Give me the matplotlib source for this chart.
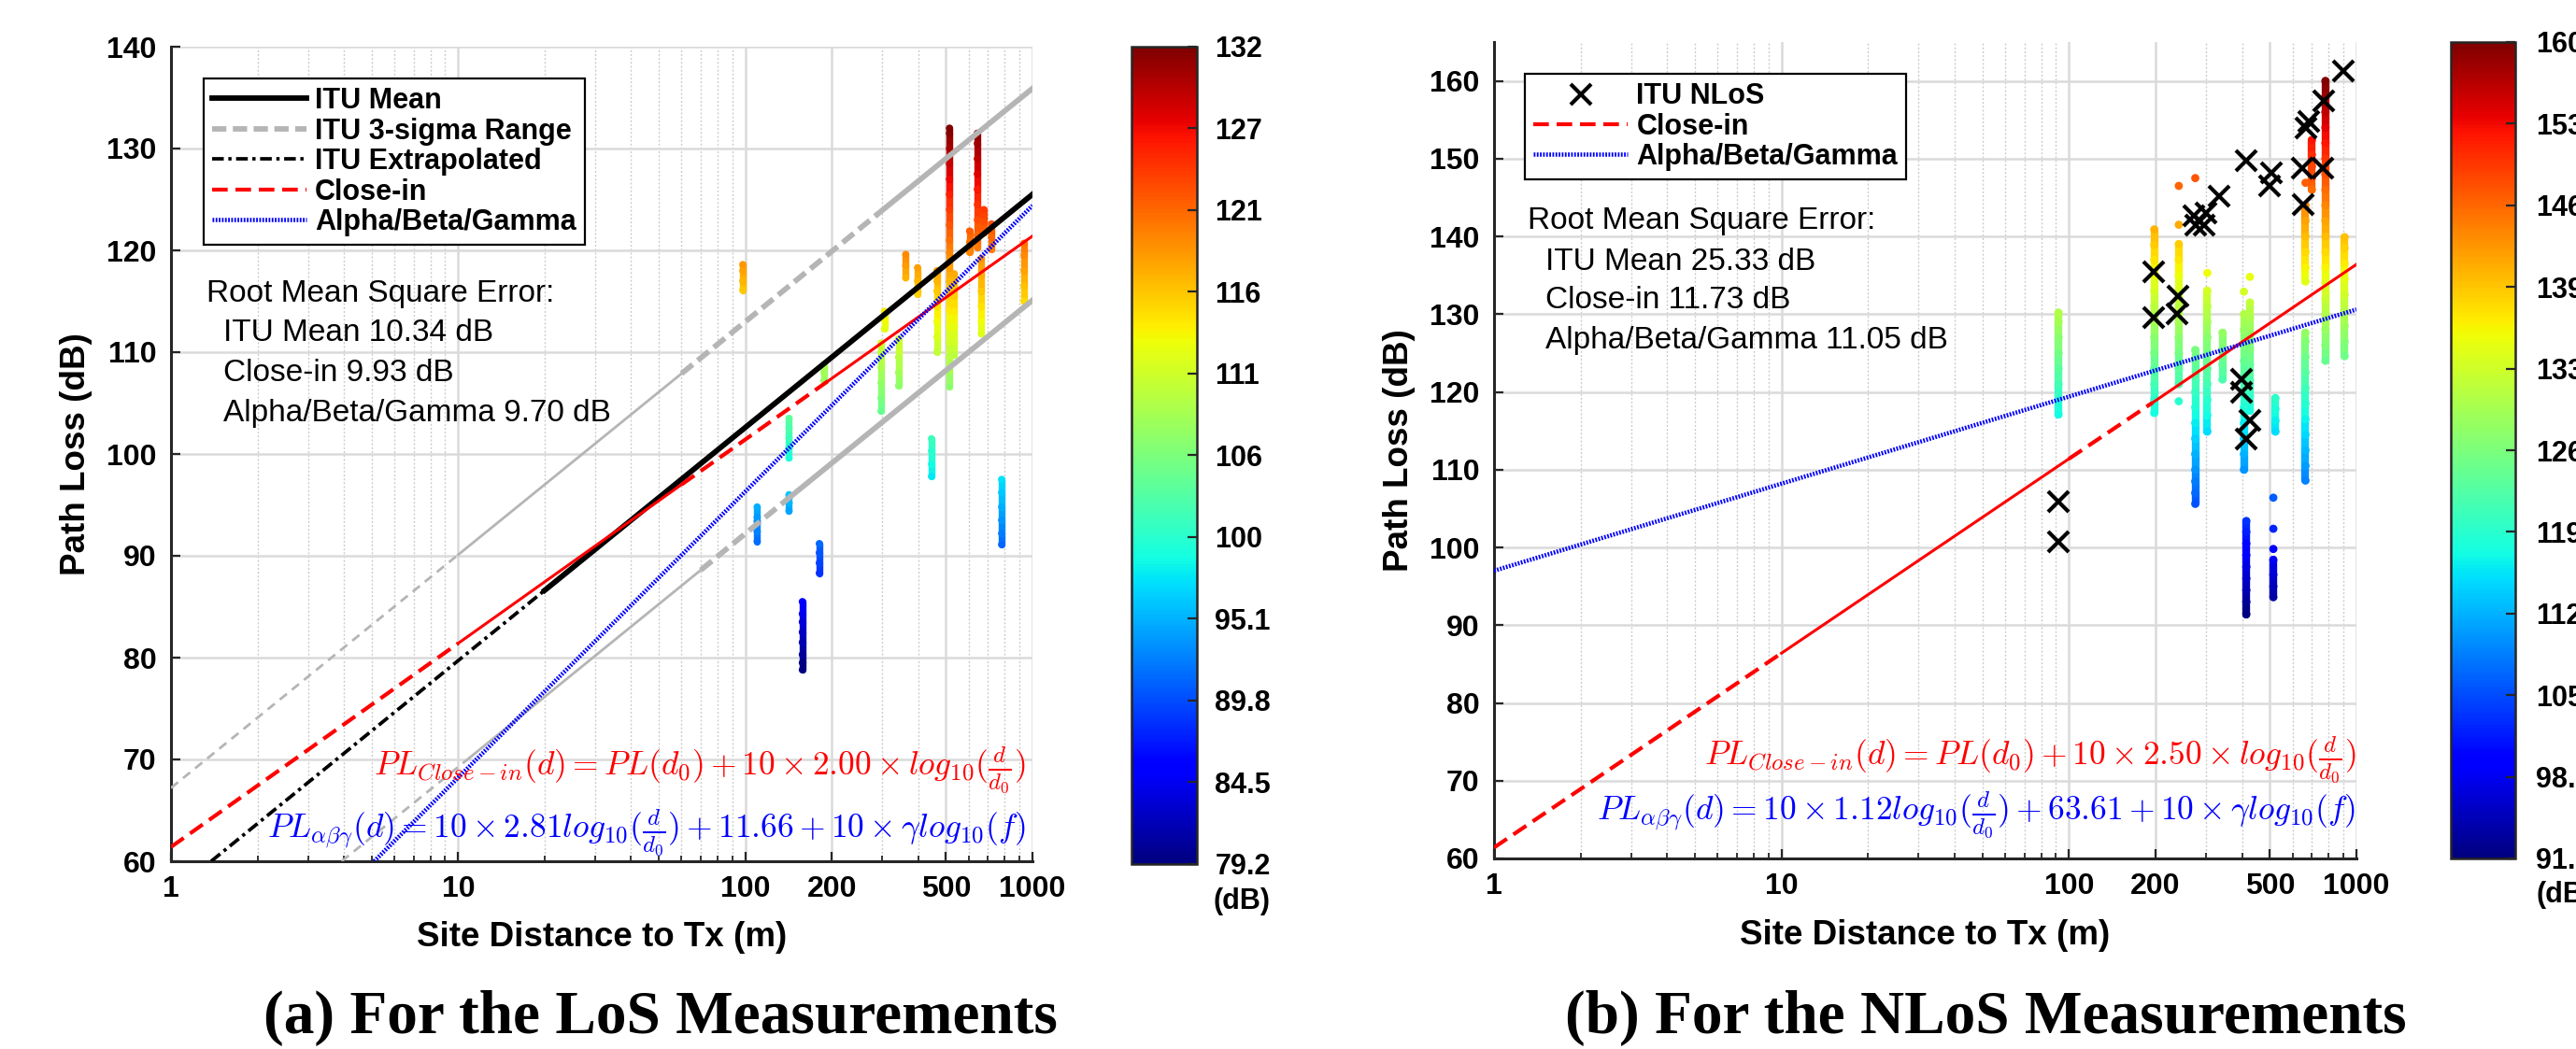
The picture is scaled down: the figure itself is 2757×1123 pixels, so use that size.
import numpy as np
import matplotlib
matplotlib.use("Agg")
import matplotlib.pyplot as plt
from matplotlib.collections import LineCollection
from matplotlib.colors import Normalize
from matplotlib.lines import Line2D
from matplotlib.ticker import LogLocator, NullFormatter
import matplotlib.cm as cm

plt.rcParams['font.family'] = ['Liberation Sans', 'DejaVu Sans']
plt.rcParams['mathtext.fontset'] = 'cm'
plt.rcParams['lines.scale_dashes'] = False

W, H = 2757, 1123

# ---------------- LoS data (panel a) ----------------
los_dist = [98, 110, 142, 142, 158, 181, 188, 297, 305, 342, 362, 398, 445,
            465, 514, 534, 604, 643, 664, 676, 720, 781, 935]
los_pl = [
    [116.1, 117.0, 118.0, 118.6],
    [91.4, 92.4, 93.4, 93.8, 94.8],
    [99.6, 100.6, 101.6, 102.6, 103.5],
    [94.4, 95.2, 96.0],
    [78.8, 79.5, 80.3, 81.5, 82.5, 83.5, 84.3, 85.5],
    [88.3, 89.3, 90.3, 91.2],
    [107.2, 108.0, 108.8],
    [104.2, 105.5, 107.0, 108.5, 110.0, 110.9],
    [112.3, 113.2, 114.0],
    [106.7, 108.0, 109.5, 111.3],
    [117.3, 118.5, 119.6],
    [115.7, 117.0, 118.3],
    [97.8, 99.0, 100.3, 101.5],
    [110.0, 111.5, 113.0, 114.5, 116.0, 117.0, 118.0],
    [106.6, 108.2, 109.5, 111.0, 112.5, 114.1, 115.5, 117.0, 118.3, 119.8,
     121.0, 122.5, 124.0, 125.5, 127.0, 128.5, 130.0, 131.5, 132.0],
    [109.7, 111.0, 112.5, 114.0, 115.5, 117.0, 117.7],
    [119.8, 120.8, 121.9],
    [120.3, 121.5, 123.0, 124.5, 126.0, 127.5, 129.0, 130.5, 131.5],
    [111.8, 113.0, 114.5, 116.0, 117.5, 119.2],
    [121.7, 122.8, 124.0],
    [120.1, 121.3, 122.6],
    [91.1, 92.2, 93.5, 94.8, 96.2, 97.5],
    [115.0, 116.5, 118.0, 119.5, 120.7],
]

# model lines (break points)
itu_ext_d, itu_ext_pl = [1.38, 20], [60.0, 86.6]
itu_mean_d, itu_mean_pl = [20, 1000], [86.6, 125.5]
up3_d, up3_pl = [1, 10, 60, 290, 1000], [67.2, 90.1, 107.9, 123.6, 135.9]
lo3_d, lo3_pl = [3.93, 11, 70, 145, 1000], [60.0, 70.2, 88.6, 95.9, 115.1]
ci_los_d, ci_los_pl = [1, 10, 60, 195, 1000], [61.4, 81.4, 97.0, 107.2, 121.4]
abg_los_d, abg_los_pl = [5.1, 1000], [60.0, 124.4]

# ---------------- NLoS data (panel b) ----------------
nlos_dist = [92, 198, 241, 241, 275, 275, 303, 342, 406, 426, 414, 514, 514,
             514, 514, 523, 665, 665, 700, 780, 910]
nlos_pl = [
    [117.1, 119.0, 121.0, 123.0, 125.0, 127.0, 129.0, 130.2],
    [117.3, 119.0, 121.0, 123.0, 125.0, 127.0, 129.0, 131.0, 133.0, 135.0,
     137.0, 138.9, 140.9],
    [118.8, 121.0, 123.0, 125.0, 127.0, 129.0, 131.0, 133.0, 135.0, 137.0,
     139.0, 141.5],
    [146.5],
    [147.5],
    [105.6, 107.0, 108.5, 110.0, 112.0, 114.0, 116.0, 118.0, 120.0, 122.0,
     124.0, 125.4],
    [114.9, 117.0, 119.0, 121.0, 123.0, 125.0, 127.0, 129.0, 131.0, 133.0,
     135.3],
    [121.6, 123.5, 125.5, 127.6],
    [110.0, 112.0, 114.0, 116.0, 118.0, 120.0, 122.0, 124.0, 126.0, 128.0,
     130.0, 132.9],
    [117.6, 119.5, 121.5, 123.5, 125.5, 127.5, 129.5, 131.5, 134.8],
    [91.4, 93.0, 94.5, 96.0, 97.5, 99.0, 100.5, 102.0, 103.4],
    [93.6, 95.0, 96.5, 98.4],
    [99.8],
    [102.4],
    [106.4],
    [114.9, 116.3, 117.8, 119.2],
    [134.2, 136.0, 138.0, 140.0, 142.0, 144.0, 146.9],
    [108.6, 110.5, 112.5, 114.5, 116.5, 118.5, 120.5, 122.5, 124.5, 126.5,
     127.6],
    [146.0, 147.5, 149.0, 150.5, 152.4],
    [124.0, 126.0, 128.0, 130.0, 132.0, 134.0, 136.0, 138.0, 140.0, 142.0,
     144.0, 146.0, 148.0, 150.0, 152.0, 154.0, 156.0, 158.0, 160.0],
    [124.6, 126.5, 128.5, 130.5, 132.5, 134.5, 136.5, 138.5, 139.9],
]

itu_nlos_d = [92, 92, 197, 197, 239, 237, 271, 276, 295, 300, 334, 414, 497,
              506, 399, 398, 427, 414, 647, 652, 669, 685, 766, 769, 898]
itu_nlos_pl = [105.9, 100.7, 135.5, 129.5, 132.3, 130.0, 142.6, 141.5, 141.5,
               143.0, 145.2, 149.7, 146.5, 148.2, 121.6, 119.9, 116.4, 113.9,
               148.8, 144.1, 154.0, 154.8, 148.8, 157.4, 161.3]

ci_nlos_d, ci_nlos_pl = [1, 10, 100, 195, 1000], [61.4, 86.4, 111.4, 118.6, 136.4]
abg_nlos_d, abg_nlos_pl = [1, 1000], [97.0, 130.6]

los_cb_labels = ['79.2', '84.5', '89.8', '95.1', '100', '106', '111', '116',
                 '121', '127', '132']
nlos_cb_labels = ['91.4', '98.3', '105', '112', '119', '126', '133', '139',
                  '146', '153', '160']

x_ticks = [1, 10, 100, 200, 500, 1000]

RED, BLUE, GRAY, DARK = '#ff0000', '#0000ff', '#b5b5b5', '#262626'
THIN_DASH = (0, (7, 5))
THICK_DASH = (0, (11, 5))
RED_DASH = (0, (12, 6))
DASHDOT = (0, (9, 3.5, 2.5, 3.5))
DOT = (0, (1.3, 1.1))


def px_axes(x0, y0, x1, y1):
    return [x0 / W, 1 - y1 / H, (x1 - x0) / W, (y1 - y0) / H]


def draw_clusters(ax, dists, pls, norm, size):
    for d, vals in zip(dists, pls):
        vals = sorted(vals)
        segs, cols = [], []
        for a, b in zip(vals[:-1], vals[1:]):
            if b - a <= 2.2:
                segs.append([(d, a), (d, b)])
                cols.append((a + b) / 2)
        if segs:
            lc = LineCollection(segs, cmap='jet', norm=norm,
                                linewidths=size, capstyle='round', zorder=2)
            lc.set_array(np.array(cols))
            ax.add_collection(lc)
        ax.scatter([d] * len(vals), vals, c=vals, cmap='jet', norm=norm,
                   s=(size * 1.05) ** 2, edgecolors='none', zorder=2)


def style_axes(ax, ylim, yticks):
    ax.set_xscale('log')
    ax.set_xlim(1, 1000)
    ax.set_ylim(*ylim)
    ax.set_xticks(x_ticks)
    ax.set_xticklabels([str(t) for t in x_ticks])
    ax.xaxis.set_minor_locator(LogLocator(base=10, subs=range(2, 10)))
    ax.xaxis.set_minor_formatter(NullFormatter())
    ax.set_yticks(yticks)
    ax.grid(True, which='major', color='#dadada', lw=1.8, ls='-', zorder=0)
    ax.grid(True, which='minor', axis='x', color='#cccccc', lw=1.0,
            ls=(0, (1.5, 1.5)), zorder=0)
    ax.set_axisbelow(True)
    for s in ['top', 'right']:
        ax.spines[s].set_visible(False)
    for s in ['left', 'bottom']:
        ax.spines[s].set_color(DARK)
        ax.spines[s].set_linewidth(2.2)
    ax.tick_params(which='major', direction='in', length=7, width=1.6,
                   color=DARK, labelsize=23, pad=11)
    ax.tick_params(which='minor', direction='in', length=4.5, width=1.3,
                   color=DARK)
    for lab in ax.get_xticklabels() + ax.get_yticklabels():
        lab.set_fontweight('bold')
    ax.set_xlabel('Site Distance to Tx (m)', fontsize=26.5, weight='bold',
                  va='center')
    ax.xaxis.set_label_coords(0.5, -0.094)
    ax.set_ylabel('Path Loss (dB)', fontsize=26.5, weight='bold', va='center')
    ax.yaxis.set_label_coords(-0.11, 0.5)


def add_cbar(fig, rect, norm, labels, dx):
    cax = fig.add_axes(rect)
    sm = cm.ScalarMappable(norm=norm, cmap='jet')
    cb = fig.colorbar(sm, cax=cax)
    cb.set_ticks(np.linspace(norm.vmin, norm.vmax, len(labels)))
    cb.set_ticklabels(labels)
    cb.outline.set_edgecolor(DARK)
    cb.outline.set_linewidth(1.8)
    cax.tick_params(direction='in', length=7, width=1.6, color=DARK,
                    labelsize=22, pad=dx)
    for lab in cax.get_yticklabels():
        lab.set_fontweight('bold')
    return cax


fig = plt.figure(figsize=(W / 100, H / 100), dpi=100)

# ================= panel (a) LoS =================
ax1 = fig.add_axes(px_axes(183, 50, 1105, 922))
norm1 = Normalize(79.2, 132.0)
style_axes(ax1, (60, 140), range(60, 141, 10))
draw_clusters(ax1, los_dist, los_pl, norm1, 5.3)

# ITU 3-sigma range lines
for d, pl in [(up3_d, up3_pl), (lo3_d, lo3_pl)]:
    ax1.plot(d[0:2], pl[0:2], color=GRAY, lw=2.0, ls=THIN_DASH, zorder=3)
    ax1.plot(d[1:3], pl[1:3], color=GRAY, lw=2.0, ls='-', zorder=3)
    ax1.plot(d[2:4], pl[2:4], color=GRAY, lw=4.2, ls=THICK_DASH, zorder=3)
    ax1.plot(d[3:5], pl[3:5], color=GRAY, lw=4.2, ls='-', zorder=3)
ax1.plot(itu_ext_d, itu_ext_pl, color='k', lw=2.7, ls=DASHDOT, zorder=4)
ax1.plot(itu_mean_d, itu_mean_pl, color='k', lw=4.2, ls='-', zorder=4)
ax1.plot(ci_los_d[0:2], ci_los_pl[0:2], color=RED, lw=3.0, ls=RED_DASH, zorder=5)
ax1.plot(ci_los_d[1:3], ci_los_pl[1:3], color=RED, lw=2.2, ls='-', zorder=5)
ax1.plot(ci_los_d[2:4], ci_los_pl[2:4], color=RED, lw=3.0, ls=RED_DASH, zorder=5)
ax1.plot(ci_los_d[3:5], ci_los_pl[3:5], color=RED, lw=2.2, ls='-', zorder=5)
ax1.plot(abg_los_d, abg_los_pl, color=BLUE, lw=3.3, ls=DOT, zorder=6)

h1 = [Line2D([], [], color='k', lw=4.2),
      Line2D([], [], color=GRAY, lw=4.2, ls=THICK_DASH),
      Line2D([], [], color='k', lw=2.7, ls=DASHDOT),
      Line2D([], [], color=RED, lw=3.0, ls=RED_DASH),
      Line2D([], [], color=BLUE, lw=3.3, ls=DOT)]
l1 = ['ITU Mean', 'ITU 3-sigma Range', 'ITU Extrapolated', 'Close-in',
      'Alpha/Beta/Gamma']
leg = ax1.legend(h1, l1, loc='upper left', bbox_to_anchor=(0.038, 0.961),
                 borderaxespad=0, prop={'size': 22, 'weight': 'bold'},
                 handlelength=3.3, handletextpad=0.3, labelspacing=0.08,
                 borderpad=0.3, fancybox=False, framealpha=1,
                 edgecolor='k')
leg.get_frame().set_linewidth(1.6)
leg.set_zorder(10)

for txt, x, y in [('Root Mean Square Error:', 0.041, 0.697),
                  ('ITU Mean 10.34 dB', 0.061, 0.648),
                  ('Close-in 9.93 dB', 0.061, 0.599),
                  ('Alpha/Beta/Gamma 9.70 dB', 0.061, 0.550)]:
    ax1.text(x, y, txt, transform=ax1.transAxes, fontsize=24, va='center',
             ha='left', color='k', zorder=10)

ax1.text(0.992, 0.111,
         r'$PL_{Close-in}(d) = PL(d_0) + 10 \times 2.00 \times log_{10}(\frac{d}{d_0})$',
         transform=ax1.transAxes, ha='right', va='center', fontsize=25.5,
         color=RED, zorder=10)
ax1.text(0.992, 0.034,
         r'$PL_{\alpha\beta\gamma}(d) = 10 \times 2.81 log_{10}(\frac{d}{d_0}) + 11.66 + 10 \times \gamma log_{10}(f)$',
         transform=ax1.transAxes, ha='right', va='center', fontsize=25.5,
         color=BLUE, zorder=10)

add_cbar(fig, px_axes(1211, 50, 1281, 925), norm1, los_cb_labels, 14)
fig.text(1299 / W, 1 - 965 / H, '(dB)', fontsize=22, weight='bold',
         ha='left', va='center')

# ================= panel (b) NLoS =================
ax2 = fig.add_axes(px_axes(1599, 45, 2522, 919))
norm2 = Normalize(91.4, 160.0)
style_axes(ax2, (60, 165), range(60, 161, 10))
draw_clusters(ax2, nlos_dist, nlos_pl, norm2, 6.0)

ax2.plot(ci_nlos_d[0:2], ci_nlos_pl[0:2], color=RED, lw=3.0, ls=RED_DASH, zorder=5)
ax2.plot(ci_nlos_d[1:3], ci_nlos_pl[1:3], color=RED, lw=2.2, ls='-', zorder=5)
ax2.plot(ci_nlos_d[2:4], ci_nlos_pl[2:4], color=RED, lw=3.0, ls=RED_DASH, zorder=5)
ax2.plot(ci_nlos_d[3:5], ci_nlos_pl[3:5], color=RED, lw=2.2, ls='-', zorder=5)
ax2.plot(abg_nlos_d, abg_nlos_pl, color=BLUE, lw=3.3, ls=DOT, zorder=6)
ax2.plot(itu_nlos_d, itu_nlos_pl, ls='none', marker='x', color='k', ms=16,
         mew=3, zorder=7, clip_on=False)

h2 = [Line2D([], [], ls='none', marker='x', color='k', ms=16, mew=3),
      Line2D([], [], color=RED, lw=3.0, ls=RED_DASH),
      Line2D([], [], color=BLUE, lw=3.3, ls=DOT)]
l2 = ['ITU NLoS', 'Close-in', 'Alpha/Beta/Gamma']
leg2 = ax2.legend(h2, l2, loc='upper left', bbox_to_anchor=(0.036, 0.961),
                  borderaxespad=0, prop={'size': 22, 'weight': 'bold'},
                  handlelength=3.3, handletextpad=0.3, labelspacing=0.08,
                  borderpad=0.3, fancybox=False, framealpha=1,
                  edgecolor='k')
leg2.get_frame().set_linewidth(1.6)
leg2.set_zorder(10)

for txt, x, y in [('Root Mean Square Error:', 0.039, 0.781),
                  ('ITU Mean 25.33 dB', 0.06, 0.731),
                  ('Close-in 11.73 dB', 0.06, 0.684),
                  ('Alpha/Beta/Gamma 11.05 dB', 0.06, 0.635)]:
    ax2.text(x, y, txt, transform=ax2.transAxes, fontsize=24, va='center',
             ha='left', color='k', zorder=10)

ax2.text(0.999, 0.120,
         r'$PL_{Close-in}(d) = PL(d_0) + 10 \times 2.50 \times log_{10}(\frac{d}{d_0})$',
         transform=ax2.transAxes, ha='right', va='center', fontsize=25.5,
         color=RED, zorder=10)
ax2.text(0.999, 0.053,
         r'$PL_{\alpha\beta\gamma}(d) = 10 \times 1.12 log_{10}(\frac{d}{d_0}) + 63.61 + 10 \times \gamma log_{10}(f)$',
         transform=ax2.transAxes, ha='right', va='center', fontsize=25.5,
         color=BLUE, zorder=10)

add_cbar(fig, px_axes(2623, 45, 2692, 919), norm2, nlos_cb_labels, 16)
fig.text(2715 / W, 1 - 958 / H, '(dB)', fontsize=22, weight='bold',
         ha='left', va='center')

# ================= captions =================
fig.text(707 / W, 1 - 1090 / H, '(a) For the LoS Measurements',
         family='Liberation Serif', weight='bold', fontsize=47,
         ha='center', va='center')
fig.text(2125 / W, 1 - 1090 / H, '(b) For the NLoS Measurements',
         family='Liberation Serif', weight='bold', fontsize=47,
         ha='center', va='center')

fig.savefig('out.png', dpi=100)
